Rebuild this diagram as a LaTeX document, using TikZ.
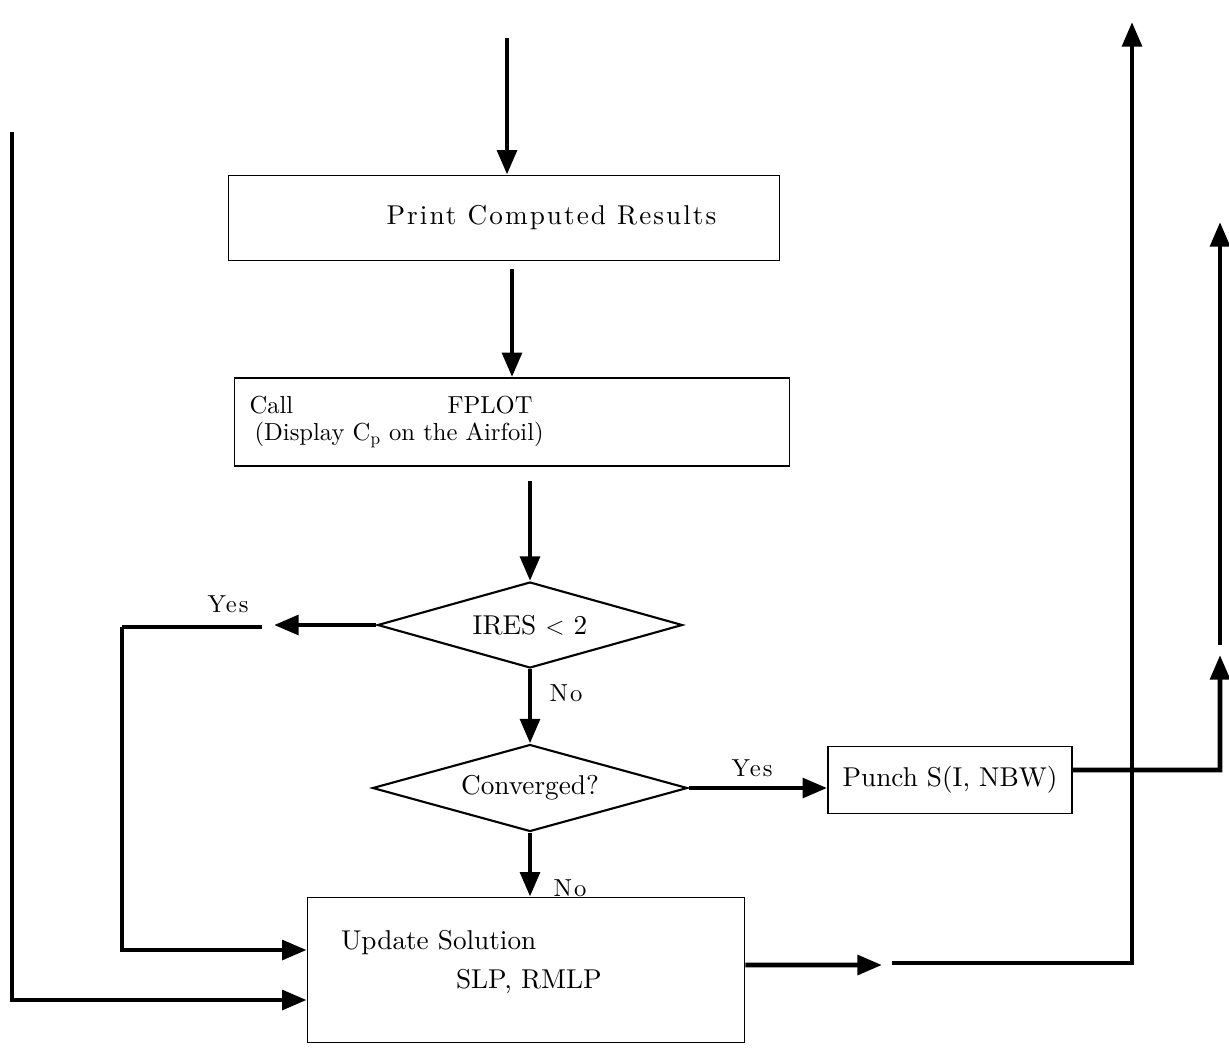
\documentclass[tikz,border=0pt]{standalone}
\usepackage{amsmath}
\usepackage{fontspec}
\setmainfont{lmroman10-regular.otf}[BoldFont=lmroman10-bold.otf]
\usepackage{tikz}
\usetikzlibrary{arrows.meta,positioning,shapes.geometric}

\begin{document}
\begin{tikzpicture}[
  x=0.02cm, y=-0.02cm,
  every node/.style={font=\fontsize{15.5}{18}\selectfont},
  box/.style={draw, line width=1pt, rectangle, inner sep=0pt},
  decision/.style={draw, line width=1.2pt, diamond, aspect=3.5, inner sep=0pt},
  spaced/.style={font=\fontsize{15.5}{18}\selectfont\addfontfeatures{LetterSpace=7.5}},
  tag/.style={font=\fontsize{14}{17}\selectfont\addfontfeatures{LetterSpace=8}},
  flow/.style={line width=2.8pt, -{Triangle[length=14pt,width=11pt]}},
  wire/.style={line width=2.8pt}
]
\useasboundingbox (0,0) rectangle (1229,1051);

\node[box, spaced, minimum width=11.02cm, minimum height=1.7cm] (print) at (504,218)
  {\hspace*{1.9cm}\raisebox{-0.15cm}{Print Computed Results}};
\node[box, font=\fontsize{14}{17}\selectfont, minimum width=11.1cm, minimum height=1.76cm, text width=10.5cm, align=left] (fplot) at (512,422)
  {\makebox[3.96cm][l]{Call}FPLOT\\[-2pt]
   \hspace*{0.1cm}(Display $\mathrm{C}_{\mathrm{p}}$ on the Airfoil)};
\node[decision, minimum width=6.1cm, minimum height=1.72cm] (ires) at (530,625) {IRES $<$ 2};
\node[decision, minimum width=6.3cm, minimum height=1.74cm] (conv) at (530,788) {Converged?};
\node[box, minimum width=4.88cm, minimum height=1.34cm] (punch) at (950,780) {Punch S(I, NBW)};
\node[box, minimum width=8.74cm, minimum height=2.9cm, text width=7.4cm, align=left] (update) at (526,970)
  {Update Solution\\[0.15cm]
   \hspace*{2.3cm}SLP, RMLP\\[-5.5pt]\mbox{}};

\node[tag] (yes1) at (228,604) {Yes};
\node[tag] (no1) at (566,693) {No};
\node[tag] (yes2) at (752,768) {Yes};
\node[tag] (no2) at (570,888) {No};

\coordinate (intop) at (507,38);
\coordinate (yesend) at (274,625);
\coordinate (yesstart) at (262,627);
\coordinate (yescorner) at (122,627);
\coordinate (lefttop) at (12,132);
\coordinate (outend) at (882,965);
\coordinate (outstart) at (892,963);
\coordinate (longtop) at (1132,22);
\coordinate (pcorner) at (1220,770);
\coordinate (ptip) at (1220,655);
\coordinate (pstart) at (1220,645);
\coordinate (ptop) at (1220,222);

\draw[flow] (intop) -- (intop |- print.north);
\draw[flow, shorten <=0.16cm] (print.south -| fplot.north) -- (fplot.north);
\draw[flow, shorten <=0.28cm] (fplot.south -| ires.north) -- (ires.north);
\draw[flow] (ires.south) -- (conv.north);
\draw[flow] (conv.south) -- (update.north -| conv.south);
\draw[flow] (conv.east) -- (conv.east -| punch.west);

\draw[flow] (ires.west) -- (yesend);
\draw[wire] (yesstart) -- (yescorner);
\draw[flow] (yescorner) |- ([yshift=0.4cm]update.west);
\draw[flow] (lefttop) |- ([yshift=-0.6cm]update.west);

\draw[flow] ([yshift=0.1cm]update.east) -- (outend);
\draw[flow] (outstart) -| (longtop);

\draw[flow] ([yshift=0.2cm]punch.east) -- (pcorner) -- (ptip);
\draw[flow] (pstart) -- (ptop);
\end{tikzpicture}
\end{document}
